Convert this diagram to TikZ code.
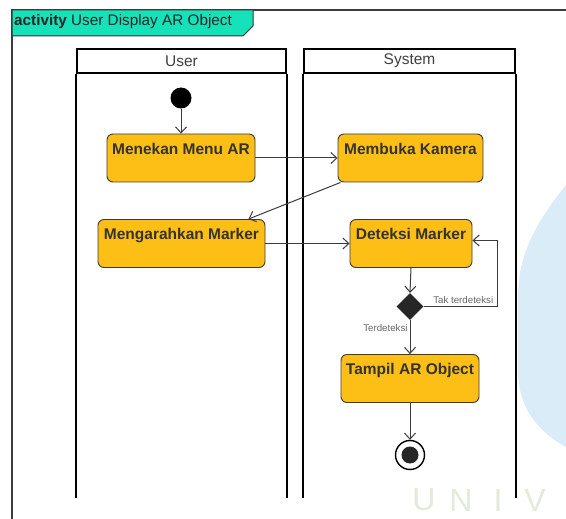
\documentclass[tikz,border=0pt]{standalone}
\usepackage{fontspec}
\setmainfont{Liberation Sans}
\usetikzlibrary{arrows.meta, shapes.geometric}
\definecolor{actfill}{RGB}{253,190,22}
\definecolor{tabfill}{RGB}{22,226,186}
\definecolor{lineclr}{RGB}{60,60,60}
\definecolor{wmclr}{RGB}{228,235,218}
\definecolor{blobclr}{RGB}{218,236,248}

\begin{document}
\begin{tikzpicture}[x=1pt,y=-1pt,
	act/.style={rectangle, rounded corners=6pt, draw=lineclr, line width=0.9pt, fill=actfill, font=\fontsize{15.5}{18}\selectfont\bfseries, text=black!80, inner xsep=2pt, inner ysep=9pt, text height=11pt, text depth=19pt},
	lanehead/.style={rectangle, draw=black, line width=1.8pt, minimum height=24pt, font=\fontsize{15.5}{18}\selectfont, text=black!75},
	laneline/.style={draw=black, line width=1.8pt},
	flow/.style={draw=lineclr, line width=1pt, -{Straight Barb[length=6pt,width=11pt]}},
	lbl/.style={font=\fontsize{9.7}{11}\selectfont, text=black!60, inner sep=2pt}]
	\useasboundingbox (0,0) rectangle (566,519);
	\fill[white] (0,0) rectangle (566,519);

	% watermark
	\fill[blobclr] (566,185) .. controls (530,230) and (518,260) .. (518,300) -- (518,370) .. controls (518,405) and (535,430) .. (566,447) -- cycle;
	\foreach \ch [count=\i] in {U,N,I,V}
		\node[font=\fontsize{32}{32}\selectfont, text=wmclr] (wm\i) at (424+37*\i-37,500) {\ch};

	% frame and title
	\draw[lineclr, line width=1.5pt] (12,519) -- (12,10) -- (566,10);
	\draw[fill=tabfill, draw=black!80, line width=1pt] (12,10) -- (253,10) -- (253,26) -- (243,36) -- (12,36) -- cycle;
	\node[anchor=west, inner sep=0, font=\fontsize{15.3}{18}\selectfont, text=black!85] (title) at (14,22) {\textbf{activity} User Display AR Object};

	% lanes
	\node[lanehead, minimum width=209pt] (UserLane) at (181.5,61) {User};
	\node[lanehead, minimum width=211pt] (SysLane) at (409.5,61) {System};
	\draw[laneline] (UserLane.south west) -- ++(0,424);
	\draw[laneline] (UserLane.south east) -- ++(0,424);
	\draw[laneline] (SysLane.south west) -- ++(0,424);
	\draw[laneline] (SysLane.south east) -- ++(0,424);

	% actions
	\node[circle, fill=black, minimum size=21pt, inner sep=0] (start) at (181,98) {};
	\node[act, minimum width=148pt] (MMA) at (181,158) {Menekan Menu AR};
	\node[act, minimum width=145pt] (MK) at (410.5,158) {Membuka Kamera};
	\node[act, minimum width=167pt] (MM) at (181.5,243.5) {Mengarahkan Marker};
	\node[act, minimum width=122pt] (DM) at (411,243.5) {Deteksi Marker};
	\node[diamond, fill=black!85, minimum size=27pt, inner sep=0] (Dec) at (410,306.5) {};
	\node[act, minimum width=138pt] (TA) at (410,378.5) {Tampil AR Object};
	\node[circle, draw=black, line width=1.4pt, fill=white, minimum size=29pt, inner sep=0] (end) at (410,455) {};
	\node[circle, fill=black!85, minimum size=17pt, inner sep=0] (endDot) at (end) {};
	\coordinate (loopR) at (497,240.5);

	% flows
	\draw[flow] (start) -- (MMA.north);
	\draw[flow] (MMA.east) -- (MK.west);
	\draw[flow] ([xshift=3pt]MK.south west) -- ([xshift=-17pt]MM.north east);
	\draw[flow] (MM.east) -- (DM.west);
	\draw[flow] (DM.south) -- (Dec.north);
	\draw[flow] (Dec.east) -| node[lbl, above, pos=0.27] {Tak terdeteksi} (loopR) -- (loopR -| DM.east);
	\draw[flow] (Dec.south) -- node[lbl, left, pos=0.22] {Terdeteksi} (TA.north);
	\draw[flow] (TA.south) -- (end.north);
\end{tikzpicture}
\end{document}
